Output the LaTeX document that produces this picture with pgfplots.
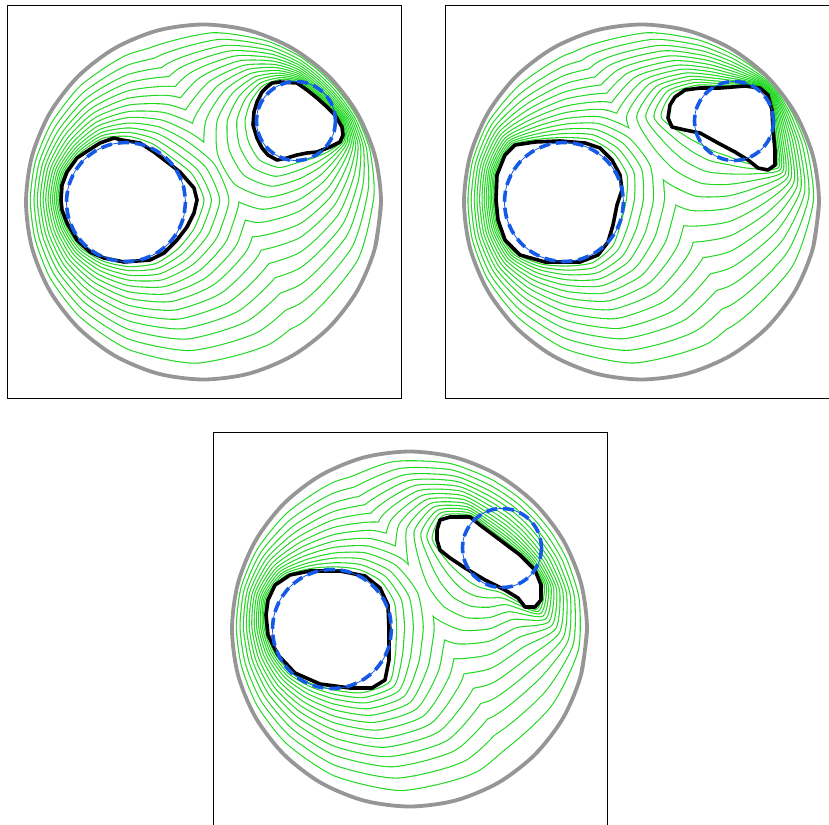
\documentclass[border=0pt]{standalone}
\usepackage{pgfplots}
\usepackage{pgfplotstable}
\pgfplotsset{compat=1.18}
\definecolor{cg}{RGB}{30,215,30}
\definecolor{cb}{RGB}{20,90,230}
\definecolor{cgray}{RGB}{150,150,150}

% ---------- panel 1 ----------
\pgfplotstableread{
x1 y1 x2 y2 x3 y3 x4 y4 x5 y5 x6 y6 x7 y7 x8 y8 x9 y9 x10 y10 x11 y11 x12 y12 x13 y13
196.4 195 203.8 195 212.1 195 221.3 195 231.4 195 242.4 195 254.4 195 267.3 195 281.1 195 295.8 195 311.4 195 328.9 195 348.2 195
187.3 222.1 194 224.9 201.5 228 209.9 231.5 219.1 235.3 229.1 239.4 240 243.9 251.6 248.8 264.2 254 277.5 259.5 291.7 265.4 307.6 271.9 325.1 279.2
170.4 243.4 175 248 180.1 253.1 185.8 258.8 192.1 265.1 198.9 271.9 206.3 279.3 214.3 287.3 222.8 295.8 232 305 241.6 314.6 252.5 325.5 264.4 337.4
148.2 258 150.2 262.9 152.4 268.3 154.9 274.3 157.7 281 160.7 288.2 163.9 296 167.4 304.5 171.2 313.5 175.2 323.2 179.4 333.5 184.2 344.9 189.4 357.6
122 261 122 265 122 269.6 122 274.6 122 280.1 122 286.2 122 292.7 122 299.8 122 307.3 122 315.3 122 323.9 122 333.5 122 344
96.8 255.8 95.7 258.5 94.4 261.5 93 264.9 91.5 268.7 89.8 272.7 88 277.1 86 281.9 83.9 287 81.6 292.4 79.3 298.1 76.6 304.6 73.6 311.7
74.5 242.5 73 244 71.3 245.7 69.5 247.5 67.5 249.5 65.2 251.8 62.8 254.2 60.2 256.8 57.4 259.6 54.5 262.5 51.3 265.7 47.8 269.2 43.9 273.1
59.7 220.8 58.2 221.5 56.5 222.2 54.6 223 52.5 223.8 50.3 224.7 47.8 225.8 45.2 226.9 42.3 228 39.3 229.3 36.1 230.6 32.5 232.1 28.6 233.7
52.8 195 51.4 195 49.8 195 48 195 46.1 195 44 195 41.7 195 39.3 195 36.7 195 33.9 195 30.9 195 27.6 195 23.9 195
58 168.5 56.6 167.9 55 167.2 53.2 166.5 51.3 165.7 49.2 164.8 46.9 163.9 44.5 162.9 41.8 161.8 39 160.6 36 159.4 32.7 158 29 156.4
74.6 147.6 73.1 146.1 71.5 144.5 69.7 142.7 67.8 140.8 65.6 138.6 63.3 136.3 60.8 133.8 58.1 131.1 55.3 128.3 52.2 125.2 48.8 121.8 45.1 118.1
96.6 133.6 95.5 131.1 94.3 128.2 93 125 91.5 121.4 89.9 117.6 88.2 113.4 86.3 108.9 84.3 104.1 82.2 98.9 79.9 93.5 77.4 87.4 74.6 80.6
122 132 122 128 122 123.5 122 118.6 122 113.1 122 107.1 122 100.6 122 93.7 122 86.2 122 78.2 122 69.8 122 60.3 122 49.8
145.1 139.3 147.2 134.4 149.5 128.8 152.1 122.6 154.9 115.7 158 108.3 161.3 100.2 164.9 91.5 168.8 82.2 172.9 72.2 177.3 61.7 182.2 49.9 187.6 36.8
164.1 152.9 168.8 148.2 174.1 142.9 180 137 186.5 130.5 193.6 123.4 201.2 115.8 209.5 107.5 218.3 98.7 227.7 89.3 237.7 79.3 248.9 68.1 261.3 55.7
184.3 169.2 191 166.4 198.6 163.2 207 159.8 216.2 155.9 226.3 151.8 237.2 147.2 249 142.4 261.6 137.1 275 131.6 289.3 125.7 305.2 119.1 322.9 111.7
196.4 195 203.8 195 212.1 195 221.3 195 231.4 195 242.4 195 254.4 195 267.3 195 281.1 195 295.8 195 311.4 195 328.9 195 348.2 195
187.3 222.1 194 224.9 201.5 228 209.9 231.5 219.1 235.3 229.1 239.4 240 243.9 251.6 248.8 264.2 254 277.5 259.5 291.7 265.4 307.6 271.9 325.1 279.2
}\PAa
\pgfplotstableread{
x1 y1 x2 y2 x3 y3 x4 y4 x5 y5 x6 y6 x7 y7 x8 y8 x9 y9 x10 y10 x11 y11 x12 y12 x13 y13
332.8 116 333.7 116 334.7 116 335.8 116 337 116 338.4 116 339.8 116 341.4 116 343.1 116 344.9 116 346.8 116 348.9 116 351.3 116
335.5 134.5 336.8 135 338.3 135.6 339.9 136.3 341.7 137 343.7 137.8 345.8 138.7 348.1 139.7 350.5 140.7 353.1 141.8 355.9 142.9 359 144.2 362.4 145.6
321 146 323.2 148.2 325.7 150.7 328.4 153.4 331.5 156.5 334.7 159.7 338.3 163.3 342.2 167.2 346.3 171.3 350.7 175.7 355.3 180.3 360.5 185.5 366.3 191.3
306.1 152.4 308.2 157.4 310.6 163.1 313.2 169.4 316 176.3 319.2 183.9 322.6 192.1 326.2 200.9 330.1 210.3 334.3 220.4 338.8 231.1 343.7 243.1 349.2 256.3
291 156.9 291 164.8 291 173.7 291 183.5 291 194.4 291 206.2 291 219.1 291 232.9 291 247.7 291 263.4 291 280.2 291 299 291 319.7
272 161.9 268.4 170.7 264.3 180.6 259.7 191.6 254.7 203.7 249.2 216.9 243.3 231.2 236.9 246.6 230.1 263.1 222.8 280.6 215 299.3 206.3 320.2 196.8 343.3
252.7 154.3 245.4 161.6 237.3 169.7 228.2 178.8 218.3 188.7 207.4 199.6 195.6 211.4 183 224 169.4 237.6 154.9 252.1 139.5 267.5 122.3 284.7 103.3 303.7
242 136.3 232.9 140.1 222.6 144.4 211.2 149.1 198.6 154.3 184.9 160 170.1 166.1 154.1 172.7 137 179.8 118.7 187.4 99.3 195.4 77.6 204.4 53.7 214.4
238.6 116 230.4 116 221 116 210.7 116 199.3 116 186.8 116 173.3 116 158.8 116 143.3 116 126.7 116 109.1 116 89.4 116 67.6 116
244.4 96.7 238.8 94.4 232.6 91.8 225.7 89 218.1 85.8 209.8 82.4 200.8 78.6 191.2 74.6 180.8 70.3 169.7 65.8 158 60.9 144.9 55.4 130.3 49.4
256.2 81.2 253.6 78.6 250.7 75.7 247.6 72.6 244 69 240.2 65.2 236.1 61.1 231.6 56.6 226.8 51.8 221.7 46.7 216.3 41.3 210.2 35.2 203.5 28.5
274 75 273.2 73.2 272.3 71 271.4 68.7 270.3 66.1 269.1 63.2 267.8 60.1 266.5 56.8 265 53.3 263.4 49.5 261.8 45.5 259.9 41 257.8 36
291 77.1 291 75.8 291 74.4 291 72.8 291 71.1 291 69.2 291 67.2 291 65 291 62.6 291 60.1 291 57.4 291 54.4 291 51.1
303.4 86.1 303.8 85.1 304.3 84 304.8 82.9 305.3 81.5 305.9 80.1 306.5 78.6 307.2 76.9 308 75.1 308.7 73.2 309.6 71.2 310.5 68.9 311.5 66.4
313 94 313.6 93.4 314.3 92.7 315.1 91.9 316 91 317 90 318 89 319.2 87.8 320.4 86.6 321.7 85.3 323 84 324.6 82.4 326.2 80.8
322 103.1 322.8 102.8 323.7 102.4 324.8 102 325.9 101.5 327.1 101 328.4 100.5 329.9 99.9 331.4 99.2 333 98.6 334.8 97.9 336.7 97.1 338.8 96.2
332.8 116 333.7 116 334.7 116 335.8 116 337 116 338.4 116 339.8 116 341.4 116 343.1 116 344.9 116 346.8 116 348.9 116 351.3 116
335.5 134.5 336.8 135 338.3 135.6 339.9 136.3 341.7 137 343.7 137.8 345.8 138.7 348.1 139.7 350.5 140.7 353.1 141.8 355.9 142.9 359 144.2 362.4 145.6
}\PAb

% ---------- panel 2 ----------
\pgfplotstableread{
x1 y1 x2 y2 x3 y3 x4 y4 x5 y5 x6 y6 x7 y7 x8 y8 x9 y9 x10 y10 x11 y11 x12 y12 x13 y13
180.7 195 188.7 195 197.7 195 207.8 195 218.8 195 230.8 195 243.8 195 257.8 195 272.8 195 288.9 195 305.9 195 324.9 195 346 195
175.5 217.2 182.6 220.2 190.7 223.5 199.7 227.2 209.5 231.3 220.3 235.8 232 240.6 244.5 245.8 258 251.4 272.3 257.3 287.5 263.6 304.6 270.7 323.4 278.5
167.3 240.3 172 245 177.3 250.3 183.1 256.1 189.6 262.6 196.6 269.6 204.2 277.2 212.4 285.4 221.2 294.2 230.6 303.6 240.6 313.6 251.7 324.7 264 337
147.6 257 149.6 261.8 151.9 267.3 154.4 273.4 157.2 280.1 160.2 287.4 163.5 295.3 167.1 303.9 170.8 313 174.9 322.7 179.2 333.1 184 344.7 189.3 357.4
122 260.5 122 264.6 122 269.1 122 274.2 122 279.7 122 285.8 122 292.4 122 299.5 122 307 122 315.1 122 323.7 122 333.3 122 343.9
95.8 258.3 94.7 260.9 93.5 263.8 92.1 267.1 90.6 270.7 89 274.6 87.2 278.8 85.4 283.4 83.3 288.3 81.2 293.5 78.9 299 76.3 305.2 73.5 312.1
69.9 247.1 68.6 248.4 67.1 249.9 65.5 251.5 63.7 253.3 61.8 255.2 59.7 257.3 57.4 259.6 55 262 52.4 264.6 49.7 267.3 46.6 270.4 43.2 273.8
54.5 223.1 53.2 223.6 51.7 224.2 50.1 224.9 48.3 225.6 46.4 226.4 44.3 227.3 42 228.2 39.6 229.2 37 230.2 34.3 231.4 31.2 232.6 27.8 234
49.9 195 48.6 195 47.2 195 45.6 195 43.8 195 41.9 195 39.8 195 37.6 195 35.2 195 32.6 195 29.9 195 26.8 195 23.5 195
52.3 166.3 51.1 165.8 49.8 165.2 48.3 164.6 46.7 163.9 45 163.2 43.1 162.4 41 161.5 38.8 160.6 36.5 159.6 34 158.6 31.3 157.4 28.2 156.1
67.6 140.6 66.5 139.5 65.2 138.2 63.8 136.8 62.2 135.2 60.5 133.5 58.6 131.6 56.6 129.6 54.5 127.5 52.2 125.2 49.8 122.8 47.1 120.1 44.1 117.1
97 134.4 95.9 131.8 94.7 128.9 93.3 125.6 91.8 122.1 90.2 118.1 88.4 113.9 86.6 109.4 84.5 104.5 82.4 99.3 80.1 93.7 77.5 87.5 74.7 80.7
122 133.1 122 129 122 124.5 122 119.5 122 113.9 122 107.9 122 101.4 122 94.3 122 86.8 122 78.7 122 70.1 122 60.6 122 50
146.7 135.4 148.7 130.6 151 125.2 153.5 119.2 156.2 112.6 159.2 105.3 162.4 97.5 165.9 89.1 169.7 80.1 173.6 70.5 177.9 60.3 182.6 48.8 187.8 36.2
168.3 148.7 172.8 144.2 177.9 139.1 183.6 133.4 189.8 127.2 196.6 120.4 204 113 212 105 220.5 96.5 229.6 87.4 239.2 77.8 250 67 261.9 55.1
181.5 170.3 188.3 167.5 196 164.3 204.6 160.8 214 156.9 224.2 152.6 235.3 148 247.3 143.1 260.1 137.8 273.8 132.1 288.3 126.1 304.5 119.3 322.5 111.9
180.7 195 188.7 195 197.7 195 207.8 195 218.8 195 230.8 195 243.8 195 257.8 195 272.8 195 288.9 195 305.9 195 324.9 195 346 195
175.5 217.2 182.6 220.2 190.7 223.5 199.7 227.2 209.5 231.3 220.3 235.8 232 240.6 244.5 245.8 258 251.4 272.3 257.3 287.5 263.6 304.6 270.7 323.4 278.5
}\PBa
\pgfplotstableread{
x1 y1 x2 y2 x3 y3 x4 y4 x5 y5 x6 y6 x7 y7 x8 y8 x9 y9 x10 y10 x11 y11 x12 y12 x13 y13
328.3 112 329.3 112 330.4 112 331.6 112 333 112 334.5 112 336.1 112 337.9 112 339.7 112 341.7 112 343.8 112 346.2 112 348.8 112
330 131.5 331.6 132.2 333.3 132.9 335.2 133.7 337.3 134.5 339.6 135.5 342 136.5 344.7 137.6 347.6 138.8 350.6 140 353.8 141.4 357.5 142.9 361.5 144.5
331.3 160.3 333.1 162.1 335.1 164.1 337.3 166.3 339.7 168.7 342.4 171.4 345.2 174.2 348.3 177.3 351.6 180.6 355.2 184.2 358.9 187.9 363.1 192.1 367.7 196.7
301.9 157.6 304 162.7 306.4 168.4 309 174.8 311.9 181.8 315.1 189.5 318.6 197.8 322.3 206.7 326.2 216.3 330.5 226.5 335 237.4 340 249.5 345.6 262.9
283 150.6 283 159 283 168.3 283 178.8 283 190.3 283 202.8 283 216.3 283 231 283 246.6 283 263.3 283 281 283 300.9 283 322.8
269.1 145.7 265.2 155.2 260.8 165.8 255.9 177.6 250.5 190.5 244.7 204.6 238.3 220 231.5 236.5 224.1 254.1 216.3 273 208 293 198.7 315.4 188.5 340.1
255.8 138.9 248.2 146.5 239.6 155.1 230.1 164.6 219.6 175.1 208.1 186.6 195.7 199 182.4 212.3 168.1 226.6 152.8 241.9 136.6 258.1 118.4 276.3 98.4 296.3
239.9 129.9 230.8 133.7 220.6 137.9 209.2 142.6 196.7 147.8 183.1 153.4 168.3 159.6 152.4 166.2 135.3 173.2 117.1 180.8 97.8 188.8 76.2 197.7 52.3 207.6
216.8 112 209.5 112 201.3 112 192.2 112 182.1 112 171.2 112 159.3 112 146.5 112 132.9 112 118.3 112 102.7 112 85.4 112 66.2 112
227.3 88.9 222.5 86.9 217.1 84.6 211.2 82.2 204.6 79.4 197.4 76.5 189.6 73.2 181.2 69.8 172.2 66 162.7 62.1 152.5 57.9 141.1 53.2 128.6 47.9
251.8 80.8 249.2 78.2 246.4 75.4 243.2 72.2 239.7 68.7 235.9 64.9 231.8 60.8 227.4 56.4 222.6 51.6 217.5 46.5 212.2 41.2 206.1 35.1 199.5 28.5
270.2 81 269.3 78.8 268.2 76.3 267.1 73.5 265.8 70.4 264.4 67.1 262.9 63.4 261.3 59.5 259.5 55.3 257.7 50.9 255.7 46.1 253.5 40.8 251 34.9
283 81 283 79.4 283 77.6 283 75.5 283 73.3 283 70.9 283 68.3 283 65.4 283 62.4 283 59.2 283 55.7 283 51.9 283 47.7
296 80.5 296.4 79.6 296.8 78.5 297.3 77.3 297.9 75.9 298.5 74.5 299.2 72.9 299.9 71.2 300.6 69.4 301.5 67.4 302.3 65.4 303.3 63.1 304.4 60.5
312.8 82.2 313.2 81.8 313.6 81.4 314.2 80.8 314.7 80.3 315.3 79.7 316 79 316.7 78.3 317.5 77.5 318.3 76.7 319.2 75.8 320.2 74.8 321.3 73.7
324.8 94.8 325.3 94.6 325.9 94.3 326.6 94 327.3 93.7 328.1 93.4 329 93 329.9 92.6 330.9 92.2 331.9 91.8 333.1 91.3 334.3 90.8 335.7 90.2
328.3 112 329.3 112 330.4 112 331.6 112 333 112 334.5 112 336.1 112 337.9 112 339.7 112 341.7 112 343.8 112 346.2 112 348.8 112
330 131.5 331.6 132.2 333.3 132.9 335.2 133.7 337.3 134.5 339.6 135.5 342 136.5 344.7 137.6 347.6 138.8 350.6 140 353.8 141.4 357.5 142.9 361.5 144.5
}\PBb

% ---------- panel 3 ----------
\pgfplotstableread{
x1 y1 x2 y2 x3 y3 x4 y4 x5 y5 x6 y6 x7 y7 x8 y8 x9 y9 x10 y10 x11 y11 x12 y12 x13 y13
182.9 195 190.9 195 199.8 195 209.7 195 220.6 195 232.4 195 245.3 195 259.2 195 274 195 289.9 195 306.7 195 325.5 195 346.3 195
182 219.9 188.9 222.8 196.7 226 205.3 229.6 214.8 233.5 225.2 237.8 236.4 242.4 248.5 247.4 261.4 252.8 275.2 258.5 289.9 264.6 306.2 271.4 324.4 278.9
176.3 249.3 180.6 253.6 185.4 258.4 190.8 263.8 196.8 269.8 203.3 276.3 210.3 283.3 217.8 290.8 225.9 298.9 234.5 307.5 243.7 316.7 254 327 265.3 338.3
149 260.1 151 264.9 153.2 270.2 155.6 276.1 158.3 282.7 161.3 289.8 164.5 297.5 167.9 305.8 171.6 314.7 175.5 324.1 179.7 334.2 184.4 345.5 189.5 357.9
122 257.6 122 261.8 122 266.5 122 271.7 122 277.4 122 283.7 122 290.4 122 297.7 122 305.5 122 313.9 122 322.7 122 332.6 122 343.5
98.7 251.2 97.5 254.1 96.2 257.4 94.7 261 93 265 91.2 269.4 89.3 274.1 87.2 279.2 84.9 284.6 82.5 290.4 79.9 296.6 77.1 303.4 73.9 311.1
77.5 239.5 75.9 241.1 74.1 242.9 72.1 244.9 69.9 247.1 67.4 249.6 64.8 252.2 62 255 59 258 55.8 261.2 52.4 264.6 48.5 268.5 44.3 272.7
61.6 219.9 60 220.5 58.2 221.3 56.3 222.1 54.1 223 51.7 224 49.1 225.1 46.3 226.3 43.3 227.5 40.2 228.8 36.8 230.3 33 231.8 28.9 233.6
53 195 51.6 195 50 195 48.2 195 46.3 195 44.2 195 41.9 195 39.4 195 36.8 195 34 195 31 195 27.6 195 23.9 195
54.4 166.9 53.1 166.4 51.7 165.8 50.2 165.2 48.4 164.5 46.6 163.7 44.5 162.8 42.3 161.9 40 161 37.4 159.9 34.8 158.8 31.8 157.6 28.5 156.2
71.7 144.7 70.3 143.3 68.9 141.9 67.2 140.2 65.4 138.4 63.5 136.5 61.4 134.4 59.1 132.1 56.6 129.6 54 127 51.2 124.2 48.1 121.1 44.7 117.7
97.8 137.1 96.7 134.4 95.5 131.4 94.1 128 92.5 124.2 90.8 120.1 89 115.7 87.1 111 85 105.9 82.8 100.5 80.4 94.7 77.7 88.2 74.8 81.1
122 135.4 122 131.3 122 126.6 122 121.5 122 115.8 122 109.6 122 102.9 122 95.7 122 88 122 79.7 122 71 122 61.2 122 50.3
145.6 138.1 147.6 133.2 149.9 127.6 152.5 121.5 155.3 114.7 158.3 107.3 161.7 99.3 165.2 90.7 169 81.5 173.1 71.7 177.5 61.2 182.3 49.5 187.7 36.6
167.2 149.4 171.8 144.8 176.9 139.7 182.7 134 189 127.7 195.8 120.9 203.3 113.4 211.3 105.4 219.9 96.9 229.1 87.7 238.8 78 249.7 67.2 261.7 55.2
180.8 170.6 187.7 167.8 195.4 164.6 204 161 213.4 157.1 223.7 152.8 234.9 148.2 246.9 143.2 259.7 137.9 273.5 132.2 288.1 126.2 304.4 119.4 322.4 112
182.9 195 190.9 195 199.8 195 209.7 195 220.6 195 232.4 195 245.3 195 259.2 195 274 195 289.9 195 306.7 195 325.5 195 346.3 195
182 219.9 188.9 222.8 196.7 226 205.3 229.6 214.8 233.5 225.2 237.8 236.4 242.4 248.5 247.4 261.4 252.8 275.2 258.5 289.9 264.6 306.2 271.4 324.4 278.9
}\PCa
\pgfplotstableread{
x1 y1 x2 y2 x3 y3 x4 y4 x5 y5 x6 y6 x7 y7 x8 y8 x9 y9 x10 y10 x11 y11 x12 y12 x13 y13
315.6 130 317.5 130 319.6 130 322 130 324.6 130 327.4 130 330.4 130 333.7 130 337.2 130 341 130 345 130 349.4 130 354.3 130
329.1 151.9 330.8 152.7 332.8 153.5 335 154.4 337.5 155.4 340.1 156.5 343 157.7 346.1 159 349.4 160.4 353 161.9 356.7 163.4 360.9 165.2 365.6 167.1
322.8 176.8 324.8 178.8 327.1 181.1 329.6 183.6 332.4 186.4 335.4 189.4 338.7 192.7 342.3 196.3 346.1 200.1 350.2 204.2 354.5 208.5 359.3 213.3 364.6 218.6
288.5 160.2 290.9 165.8 293.5 172.1 296.4 179.1 299.6 186.8 303 195.2 306.8 204.3 310.9 214.1 315.2 224.6 319.9 235.7 324.8 247.6 330.3 260.9 336.4 275.6
276 157.2 276 165.4 276 174.7 276 185 276 196.3 276 208.6 276 222 276 236.4 276 251.8 276 268.3 276 285.8 276 305.3 276 326.9
265.9 154.3 262.1 163.4 257.9 173.6 253.2 185 248 197.4 242.4 211 236.3 225.8 229.7 241.7 222.7 258.7 215.1 276.8 207.2 296.1 198.2 317.6 188.4 341.4
256.6 149.2 249.2 156.6 240.8 165 231.5 174.3 221.3 184.5 210.2 195.6 198.1 207.7 185.1 220.7 171.2 234.6 156.3 249.5 140.5 265.3 122.9 282.9 103.4 302.4
247.7 141.7 238.3 145.5 227.9 149.9 216.2 154.7 203.4 160 189.5 165.8 174.3 172.1 158 178.9 140.6 186.1 121.9 193.8 102.2 202.1 80 211.2 55.6 221.4
235.6 130 227.2 130 217.7 130 207.1 130 195.5 130 182.9 130 169.2 130 154.4 130 138.6 130 121.7 130 103.8 130 83.8 130 61.6 130
219.7 106.7 214.4 104.5 208.4 102 201.8 99.2 194.5 96.2 186.5 92.9 177.9 89.3 168.6 85.5 158.7 81.4 148.1 77 136.8 72.3 124.2 67.1 110.3 61.3
230.1 84.1 227.6 81.6 224.7 78.7 221.4 75.4 217.9 71.9 214 68 209.8 63.8 205.3 59.3 200.5 54.5 195.3 49.3 189.8 43.8 183.7 37.7 176.9 30.9
256.9 83.8 255.8 81.3 254.7 78.4 253.3 75.3 251.9 71.8 250.3 68 248.6 63.9 246.8 59.5 244.8 54.8 242.7 49.8 240.5 44.4 238 38.4 235.3 31.8
276 97.6 276 95.2 276 92.4 276 89.3 276 86 276 82.3 276 78.3 276 74 276 69.4 276 64.4 276 59.2 276 53.4 276 46.9
286.3 105.2 287.1 103.2 288.1 101 289.1 98.5 290.2 95.8 291.4 92.8 292.8 89.6 294.2 86.1 295.7 82.4 297.4 78.4 299.1 74.2 301.1 69.5 303.2 64.3
294.6 111.5 296 110.1 297.6 108.5 299.3 106.8 301.2 104.9 303.3 102.8 305.6 100.5 308 98.1 310.6 95.5 313.4 92.7 316.3 89.8 319.6 86.5 323.3 82.8
303.4 118.7 305.2 117.9 307.2 117.1 309.4 116.2 311.8 115.2 314.4 114.1 317.3 112.9 320.3 111.7 323.6 110.3 327.1 108.8 330.9 107.3 335 105.6 339.7 103.6
315.6 130 317.5 130 319.6 130 322 130 324.6 130 327.4 130 330.4 130 333.7 130 337.2 130 341 130 345 130 349.4 130 354.3 130
329.1 151.9 330.8 152.7 332.8 153.5 335 154.4 337.5 155.4 340.1 156.5 343 157.7 346.1 159 349.4 160.4 353 161.9 356.7 163.4 360.9 165.2 365.6 167.1
}\PCb

\pgfplotstableread{
u v
374 197
368 242.9
350.2 285.8
322 322.5
285.3 350.7
242.4 368.5
196.5 374.5
150.6 368.5
107.7 350.7
71 322.5
42.8 285.8
25 242.9
19 197
25 151.1
42.8 108.2
71 71.5
107.7 43.3
150.6 25.5
196.5 19.5
242.4 25.5
285.3 43.3
322 71.5
350.2 108.2
368 151.1
374 197
368 242.9
}\Gcirc

\pgfplotstableread{
u v
178.5 197
176.5 212.4
170.5 226.8
161.1 239.1
148.8 248.5
134.4 254.5
119 256.5
103.6 254.5
89.2 248.5
76.9 239.1
67.5 226.8
61.5 212.4
59.5 197
61.5 181.6
67.5 167.2
76.9 154.9
89.2 145.5
103.6 139.5
119 137.5
134.4 139.5
148.8 145.5
161.1 154.9
170.5 167.2
176.5 181.6
178.5 197
}\BlueA

\pgfplotstableread{
u v
328.5 116
327.2 126.2
323.2 135.75
316.9 143.9
308.75 150.2
299.2 154.2
289 155.5
278.8 154.2
269.25 150.2
261.1 143.9
254.8 135.75
250.8 126.2
249.5 116
250.8 105.8
254.8 96.25
261.1 88.1
269.25 81.8
278.8 77.8
289 76.5
299.2 77.8
308.75 81.8
316.9 88.1
323.2 96.25
327.2 105.8
328.5 116
}\BlueB

\newcommand\drawcontours[2]{%
  \pgfplotsinvokeforeach{13,12,11,10,9,8,7,6,5,4,3,2,1}{%
    \addplot[cg, line width=2.2bp, smooth, tension=0.4] table[x=x##1,y=y##1]{#1};
    \addplot[cg, line width=2.2bp, smooth, tension=0.4] table[x=x##1,y=y##1]{#2};
    \addplot[fill=white, draw=none, smooth, tension=0.4] table[x=x##1,y=y##1]{#1};
    \addplot[fill=white, draw=none, smooth, tension=0.4] table[x=x##1,y=y##1]{#2};
  }%
}
\newcommand\drawtargets{%
  \addplot[cb, line width=0.8bp, smooth] table[x=u,y=v]{\BlueA};
  \addplot[cb, line width=0.8bp, smooth] table[x=u,y=v]{\BlueB};
  \addplot[cb, line width=3.6bp, smooth, dash pattern=on 11bp off 6bp] table[x=u,y=v]{\BlueA};
  \addplot[cb, line width=3.6bp, smooth, dash pattern=on 11bp off 6bp] table[x=u,y=v]{\BlueB};
  \addplot[cgray, line width=3.8bp, smooth] table[x=u,y=v]{\Gcirc};
}
\pgfplotsset{panel/.style={scale only axis, width=394bp, height=393bp,
  xmin=0, xmax=394, ymin=0, ymax=393, y dir=reverse,
  xtick=\empty, ytick=\empty, anchor=south west,
  axis line style={line width=0.8bp, black}},
  hole/.style={draw=black, line width=3.6bp, fill=white, line join=round, line cap=round}}

\begin{document}
\begin{tikzpicture}
\path[use as bounding box] (0,0) rectangle (829bp,825bp);
\clip (0,0) rectangle (829bp,825bp);

\begin{axis}[panel, at={(7bp,427bp)}]
\drawcontours{\PAa}{\PAb}
\addplot[hole] coordinates {(55,180) (60,167) (70,153) (82,145) (93,138) (107,133) (115,135) (133,138) (147,147) (160,157) (173,167) (187,183) (190,195) (187,208) (180,222) (170,235) (157,248) (143,255) (117,257) (97,253) (83,247) (70,235) (60,218) (55,205) (54,195) (55,180)};
\addplot[hole] coordinates {(265,78) (273,77) (290,78) (300,85) (310,93) (320,102) (328,110) (335,122) (336,130) (333,137) (323,142) (310,147) (300,148) (290,150) (280,153) (270,155) (261,150) (255,143) (250,133) (246,120) (247,107) (250,97) (255,87) (260,82) (265,78)};
\drawtargets
\end{axis}

\begin{axis}[panel, at={(445bp,427bp)}]
\drawcontours{\PBa}{\PBb}
\addplot[hole] coordinates {(70,140) (60,150) (52,170) (51,195) (53,215) (60,235) (75,250) (100,257) (135,257) (153,250) (163,237) (168,220) (172,200) (177,185) (175,170) (167,155) (155,143) (140,138) (115,136) (90,137) (70,140)};
\addplot[hole] coordinates {(225,100) (230,92) (240,85) (255,83) (275,83) (300,81) (315,83) (323,90) (327,105) (328,125) (330,145) (330,160) (323,165) (313,163) (303,155) (290,147) (273,138) (255,128) (240,125) (227,122) (223,113) (225,100)};
\drawtargets
\end{axis}

\begin{axis}[panel, at={(213bp,-1bp)}, height=394bp, ymax=394]
\drawcontours{\PCa}{\PCb}
\addplot[hole] coordinates {(55,168) (62,153) (77,143) (97,139) (127,139) (152,144) (167,156) (175,173) (176,198) (176,228) (172,248) (159,256) (137,256) (107,252) (82,241) (65,223) (55,203) (53,183) (55,168)};
\addplot[hole] coordinates {(224,98) (227,88) (237,85) (257,85) (267,93) (287,108) (307,123) (322,138) (328,153) (328,168) (322,175) (312,175) (305,166) (292,158) (272,148) (252,136) (237,126) (227,118) (224,108) (224,98)};
\drawtargets
\end{axis}
\end{tikzpicture}
\end{document}
